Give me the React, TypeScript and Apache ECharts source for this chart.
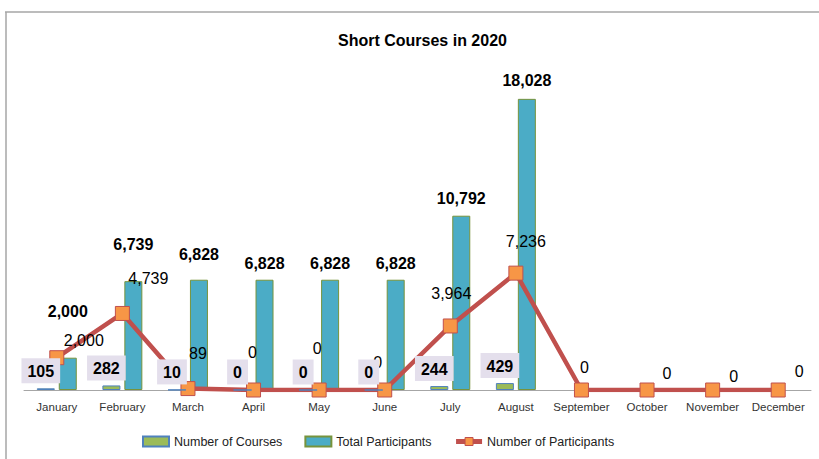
import React, { useEffect, useRef } from "react";
import * as echarts from "echarts";

const months = [
  "January", "February", "March", "April", "May", "June",
  "July", "August", "September", "October", "November", "December",
];
const numberOfCourses = [105, 282, 10, 0, 0, 0, 244, 429, null, null, null, null];
const totalParticipants = [2000, 6739, 6828, 6828, 6828, 6828, 10792, 18028, null, null, null, null];
const numberOfParticipants = [2000, 4739, 89, 0, 0, 0, 3964, 7236, 0, 0, 0, 0];

// label placement tweaks (styling only)
const totalLabelLift = [-33, -24, -12, -3, -3, -3, -4, -5, 0, 0, 0, 0];
const participantLabelOffsets = [
  [27, -17], [26, -35], [10, -35], [-1, -38], [-2, -42], [-7, -28],
  [1, -32], [10, -32], [3, -23], [20, -17], [21, -14], [21, -19],
];

const FONT = "Liberation Sans";
const fmt = (v: number) => v.toLocaleString("en-US");

export default function App() {
  const ref = useRef<HTMLDivElement>(null);
  useEffect(() => {
    if (!ref.current) return;
    const chart = echarts.init(ref.current, null, { renderer: "svg" });
    chart.setOption({
      animation: false,
      backgroundColor: "#ffffff",
      textStyle: { fontFamily: FONT },
      title: {
        text: "Short Courses in 2020",
        left: 333,
        top: 27,
        textStyle: { fontFamily: FONT, fontSize: 16, fontWeight: "bold", color: "#000" },
      },
      legend: {
        bottom: 6,
        left: 137,
        itemWidth: 26,
        itemHeight: 10,
        itemGap: 22,
        textStyle: { fontFamily: FONT, fontSize: 12.5, color: "#222" },
        data: [
          { name: "Number of Courses", icon: "rect" },
          { name: "Total Participants", icon: "rect" },
          { name: "Number of Participants", lineStyle: { width: 5 }, itemStyle: { borderWidth: 1 } },
        ],
      },
      grid: { left: 24, right: 8, top: 67, bottom: 69 },
      xAxis: {
        type: "category",
        data: months,
        axisTick: { show: false },
        axisLine: { lineStyle: { color: "#a6a6a6", width: 1 } },
        axisLabel: { color: "#333", fontSize: 11.5, margin: 11, fontFamily: FONT, interval: 0 },
      },
      yAxis: {
        type: "value",
        min: 0,
        max: 20000,
        show: false,
        splitLine: { show: false },
      },
      graphic: [
        { type: "line", shape: { x1: 5, y1: 12, x2: 819, y2: 12 }, style: { stroke: "#a6a6a6", lineWidth: 1.5 } },
        { type: "line", shape: { x1: 6, y1: 12, x2: 6, y2: 459 }, style: { stroke: "#a6a6a6", lineWidth: 1.5 } },
      ],
      series: [
        {
          name: "Number of Courses",
          type: "bar",
          data: numberOfCourses,
          barWidth: 18,
          barGap: "22%",
          z: 4,
          itemStyle: { color: "#9bbb59", borderColor: "#4f81bd", borderWidth: 1 },
          label: {
            show: true,
            position: "top",
            offset: [-5, 0],
            fontFamily: FONT,
            fontSize: 16,
            fontWeight: "bold",
            color: "#000",
            backgroundColor: "#e4dfec",
            padding: [5, 6, 4, 6],
            formatter: (p: any) => fmt(p.value),
          },
        },
        {
          name: "Total Participants",
          type: "bar",
          data: totalParticipants.map((v, i) => ({
            value: v,
            label: { offset: [0, totalLabelLift[i]] },
          })),
          barWidth: 18,
          itemStyle: { color: "#4bacc6", borderColor: "#77933c", borderWidth: 1 },
          label: {
            show: true,
            position: "top",
            fontFamily: FONT,
            fontSize: 16,
            fontWeight: "bold",
            color: "#000",
            formatter: (p: any) => (p.value == null ? "" : fmt(p.value)),
          },
        },
        {
          name: "Number of Participants",
          type: "line",
          data: numberOfParticipants.map((v, i) => ({
            value: v,
            label: { offset: participantLabelOffsets[i] },
          })),
          symbol: "rect",
          symbolSize: 14,
          lineStyle: { color: "#c0504d", width: 4.5 },
          itemStyle: { color: "#f79646", borderColor: "#c0504d", borderWidth: 1 },
          z: 3,
          label: {
            show: true,
            position: "inside",
            fontFamily: FONT,
            fontSize: 16,
            color: "#000",
            formatter: (p: any) => fmt(p.value),
          },
        },
      ],
    });
    return () => chart.dispose();
  }, []);
  return (
    <div
      ref={ref}
      style={{ position: "fixed", left: 0, top: 0, width: 819, height: 459 }}
    />
  );
}
